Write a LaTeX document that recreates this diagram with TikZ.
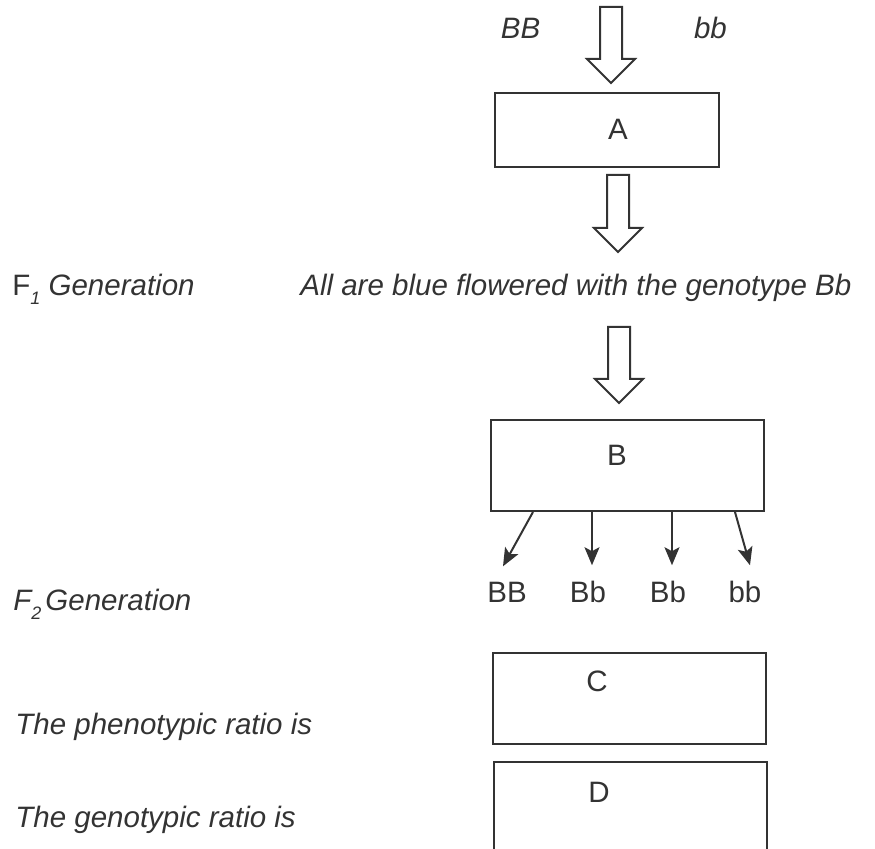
\documentclass[tikz,border=0pt]{standalone}
\usepackage{fontspec}
\setmainfont{Liberation Sans}
\usetikzlibrary{arrows.meta, positioning}
\definecolor{inkgray}{RGB}{51,51,51}
% hollow block arrow: centre x, top y, tip y
\newcommand{\blockarrow}[3]{%
  \draw[blk] (#1-11,#2) -- (#1+11,#2) -- (#1+11,#3-24) -- (#1+24,#3-24)
    -- (#1,#3) -- (#1-24,#3-24) -- (#1-11,#3-24) -- cycle;}
\newcommand{\lowsub}[1]{\raisebox{-4.5pt}{\fontsize{9}{9}\selectfont\itshape #1}}

\begin{document}
\begin{tikzpicture}[x=0.5pt,y=-0.5pt,font=\fontsize{14.75}{17}\selectfont,
  every node/.style={text=inkgray, inner sep=0pt},
  box/.style={draw=inkgray, line width=1pt, rectangle},
  blk/.style={draw=inkgray, line width=1pt, line join=miter},
  gen/.style={draw=inkgray, line width=1pt, -{Stealth[length=9pt,width=7.5pt,inset=2pt]}}]
  \useasboundingbox (0,0) rectangle (875,849);

  % parents and the cross
  \node[anchor=base] (pBB) at (520.5,39) {\textit{BB}};
  \node[anchor=base] (pbb) at (710.5,39) {\textit{bb}};
  \blockarrow{611}{7}{83}
  \node[box, minimum width=112pt, minimum height=37pt] (A) at (607,130) {};
  \node[anchor=base] (Atxt) at (618,140) {A};
  \blockarrow{618}{175}{252}

  % F1
  \node[anchor=base west] (f1) at (12,296) {F\lowsub{1}\ \textit{Generation}};
  \node[anchor=base west] (f1txt) at (300,296) {\textit{All are blue flowered with the genotype Bb}};
  \blockarrow{619}{327}{403}
  \node[box, minimum width=136.5pt, minimum height=45.5pt] (B) at (627.5,465.5) {};
  \node[anchor=base] (Btxt) at (617,466) {B};

  % F2 offspring
  \node[anchor=base west] (f2) at (13,611) {\textit{F\lowsub{2}\hspace{2pt}Generation}};
  \foreach \i/\x/\lab/\sx/\tx in {1/507/BB/21.5/-2,2/588/Bb/51/2,3/668/Bb/91/2,4/745/bb/122.5/2.5} {
    \node[anchor=base] (g\i) at (\x,603) {\lab};
    \draw[gen] ([xshift=\sx pt]B.south west) -- ([xshift=\tx pt,yshift=8pt]g\i.north);
  }

  % ratios
  \node[anchor=base west] (pheno) at (15,735) {\textit{The phenotypic ratio is}};
  \node[box, minimum width=136.5pt, minimum height=45.5pt] (C) at (629.5,698.5) {};
  \node[anchor=base] (Ctxt) at (597,692) {C};
  \node[anchor=base west] (geno) at (15,828) {\textit{The genotypic ratio is}};
  \draw[blk] (494,849) -- (494,762) -- (767,762) -- (767,849);
  \node[anchor=base] (Dtxt) at (599,803) {D};
\end{tikzpicture}
\end{document}
